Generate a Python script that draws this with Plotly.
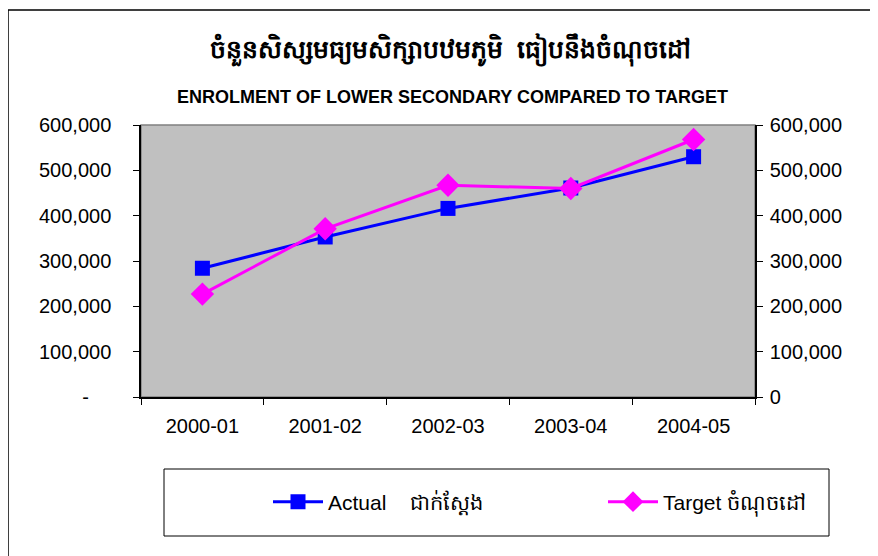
import plotly.graph_objects as go

years = ["2000-01", "2001-02", "2002-03", "2003-04", "2004-05"]
actual = [284000, 353000, 416000, 461000, 530000]
target = [227000, 371000, 467000, 460000, 568000]

tick_vals = [0, 100000, 200000, 300000, 400000, 500000, 600000]
left_ticks = ["-\u00a0\u00a0\u00a0\u00a0", "100,000", "200,000", "300,000", "400,000", "500,000", "600,000"]
right_ticks = ["0", "100,000", "200,000", "300,000", "400,000", "500,000", "600,000"]

title_km = "ចំនួនសិស្សមធ្យមសិក្សាបឋមភូមិ  ធៀបនឹងចំណុចដៅ"
title_en = "ENROLMENT OF LOWER SECONDARY COMPARED TO TARGET"
name_actual = "Actual    ជាក់ស្តែង"
name_target = "Target ចំណុចដៅ"

FONT = "Liberation Sans, Arial, sans-serif"

# page body has an 8px default margin; plot area sits at window x 141..755, y 125..397
L, T = 133, 117
PW, PH = 614, 272
W, H = 878, 556

def px(X):
    return (X - 141) / PW

def py(Y):
    return 1 - (Y - 125) / PH

fig = go.Figure()
fig.add_trace(go.Scatter(
    x=years, y=actual, name=name_actual, mode="lines+markers",
    line=dict(color="#0000FF", width=3),
    marker=dict(symbol="square", size=15, color="#0000FF"),
    yaxis="y", legend="legend"))
fig.add_trace(go.Scatter(
    x=years, y=target, name=name_target, mode="lines+markers",
    line=dict(color="#FF00FF", width=3),
    marker=dict(symbol="diamond", size=18, color="#FF00FF"),
    yaxis="y2", legend="legend2"))

axis_common = dict(range=[0, 600000], tickvals=tick_vals, ticks="outside", ticklen=6,
                   tickcolor="black", showgrid=False, zeroline=False, showline=True,
                   linecolor="black", linewidth=1.5,
                   tickfont=dict(family=FONT, size=20, color="black"))

leg_common = dict(orientation="h", xanchor="left", yanchor="middle", itemwidth=50,
                  bgcolor="rgba(0,0,0,0)", borderwidth=0,
                  font=dict(family=FONT, size=21, color="black"))

fig.update_layout(
    width=W, height=H,
    margin=dict(l=L, r=W - L - PW, t=T, b=H - T - PH),
    paper_bgcolor="white", plot_bgcolor="#C0C0C0",
    showlegend=True,
    xaxis=dict(type="category", range=[-0.5, len(years) - 0.5], tickson="boundaries",
               ticks="outside", ticklen=6,
               tickcolor="black", showgrid=False, showline=True, linecolor="black",
               linewidth=1.5, ticklabelstandoff=10,
               tickfont=dict(family=FONT, size=20, color="black")),
    yaxis=dict(ticktext=left_ticks, ticklabelstandoff=18, **axis_common),
    yaxis2=dict(ticktext=right_ticks, overlaying="y", side="right", ticklabelstandoff=3,
                **axis_common),
    legend=dict(x=px(268), y=py(502), **leg_common),
    legend2=dict(x=px(603), y=py(502), **leg_common),
    font=dict(family=FONT),
)

# outer chart border and plot-area top border
fig.add_shape(type="rect", xref="paper", yref="paper",
              x0=px(8), x1=px(900), y0=py(600), y1=py(10),
              line=dict(color="black", width=1.5), layer="below")
fig.add_shape(type="rect", xref="paper", yref="paper", x0=0, x1=1, y0=0, y1=1,
              line=dict(color="#808080", width=1.5), layer="below")
# legend box
fig.add_shape(type="rect", xref="paper", yref="paper",
              x0=px(164), x1=px(829), y0=py(536), y1=py(469),
              line=dict(color="black", width=1), layer="below")

fig.add_annotation(text="<b>" + title_km + "</b>", xref="paper", yref="paper",
                   x=px(450), y=py(50), showarrow=False,
                   xanchor="center", yanchor="middle",
                   font=dict(family=FONT, size=25, color="black"))
fig.add_annotation(text="<b>" + title_en + "</b>", xref="paper", yref="paper",
                   x=px(452), y=py(97), showarrow=False,
                   xanchor="center", yanchor="middle",
                   font=dict(family=FONT, size=18, color="black"))

fig.write_html("out.html")
